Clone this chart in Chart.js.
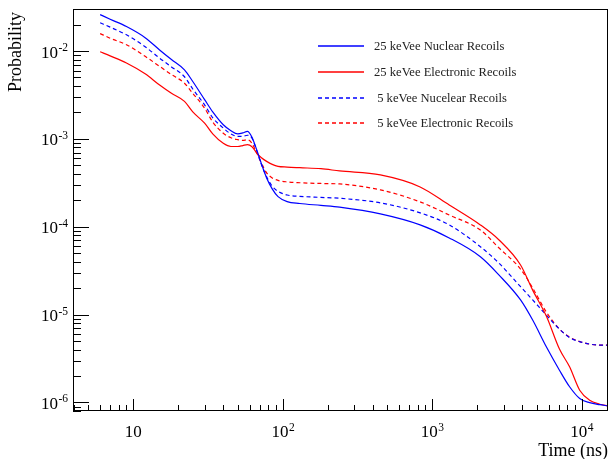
<!DOCTYPE html>
<html><head><meta charset="utf-8">
<script src="https://cdn.jsdelivr.net/npm/chart.js@4/dist/chart.umd.min.js"></script>
<style>html,body{margin:0;padding:0;background:#fff}canvas{display:block}</style>
</head><body>
<canvas id="c" width="610" height="459"></canvas>
<script>
// ---- data ----
const times = [6, 7, 9, 12, 15, 18, 22, 25, 30, 34, 40, 45, 50, 54, 58, 62, 67, 72, 78, 85,
  93, 107, 130, 180, 240, 450, 830, 1300, 2100, 2800, 3900, 4700, 5800, 7100, 8300, 9700, 11300, 13200, 15000];

const nuclear25 = [0.026, 0.023, 0.019, 0.0142, 0.0103, 0.0080, 0.0061, 0.0045, 0.0028, 0.00203,
  0.00145, 0.00124, 0.00114, 0.00117, 0.00122, 0.00106, 0.00075, 0.00052, 0.00036, 0.00027,
  0.00022, 0.000193, 0.000184, 0.000175, 0.000167, 0.00014, 0.000105, 7.46e-5, 4.56e-5, 2.82e-5,
  1.47e-5, 8.67e-6, 4.30e-6, 2.33e-6, 1.51e-6, 1.11e-6, 9.95e-7, 9.44e-7, 9.15e-7];

const electronic25 = [0.0098, 0.0088, 0.0073, 0.0055, 0.0041, 0.0033, 0.00267, 0.00203, 0.00151, 0.00114,
  0.00089, 0.00082, 0.00082, 0.00084, 0.00086, 0.00082, 0.00069, 0.00061, 0.000555, 0.000513,
  0.000487, 0.000478, 0.00047, 0.000458, 0.000432, 0.000389, 0.000284, 0.000177, 0.000105, 7.07e-5,
  3.67e-5, 1.9e-5, 9.63e-6, 4.05e-6, 2.55e-6, 1.38e-6, 1.06e-6, 9.56e-7, 9.15e-7];

const nuclear5 = [0.021, 0.0187, 0.0153, 0.0112, 0.0083, 0.0066, 0.0051, 0.0037, 0.00244, 0.00174,
  0.00133, 0.00114, 0.00107, 0.00107, 0.0011, 0.00103, 0.00073, 0.00051, 0.00037, 0.00029,
  0.000253, 0.00023, 0.000222, 0.000216, 0.000211, 0.000187, 0.000144, 0.000105, 5.93e-5, 3.84e-5,
  2.08e-5, 1.47e-5, 9.88e-6, 6.84e-6, 5.48e-6, 4.93e-6, 4.62e-6, 4.5e-6, 4.5e-6];

const electronic5 = [0.0158, 0.014, 0.0118, 0.0087, 0.0067, 0.0054, 0.0043, 0.0033, 0.00224, 0.00156,
  0.00116, 0.00103, 0.00098, 0.00096, 0.00098, 0.0009, 0.00069, 0.00053, 0.00041, 0.00036,
  0.000337, 0.000324, 0.000317, 0.000311, 0.000307, 0.000263, 0.000192, 0.000136, 9.19e-5, 5.73e-5,
  3.3e-5, 2.01e-5, 1.07e-5, 6.84e-6, 5.55e-6, 4.93e-6, 4.62e-6, 4.5e-6, 4.5e-6];

const seriesLabels = ['25 keVee Nuclear Recoils', '25 keVee Electronic Recoils',
  ' 5 keVee Nucelear Recoils', ' 5 keVee Electronic Recoils'];
const xTickExponents = [1, 2, 3, 4];
const yTickExponents = [-2, -3, -4, -5, -6];
const xTitle = 'Time (ns)';
const yTitle = 'Probability';

// ---- styles ----
const SERIF = '"Liberation Serif", "Times New Roman", serif';
const BLUE = '#0000ff', RED = '#ff0000';
const seriesColors = [BLUE, RED, BLUE, RED];
const seriesDash = [[], [], [4, 3], [4, 3]];
function pts(arr) { return times.map((t, i) => ({ x: t, y: arr[i] })); }

const rootAxes = {
  id: 'rootAxes',
  afterDatasetsDraw(chart) {
    const ctx = chart.ctx, a = chart.chartArea;
    const xs = chart.scales.x, ys = chart.scales.y;
    ctx.save();
    ctx.strokeStyle = '#000';
    ctx.lineWidth = 1;
    ctx.setLineDash([]);
    // ticks (inward)
    ctx.beginPath();
    for (let d = 0; d <= 4; d++) {
      for (let m = 1; m <= 9; m++) {
        const v = m * Math.pow(10, d);
        if (v < xs.min || v > xs.max) continue;
        const px = Math.round(xs.getPixelForValue(v)) + 0.5;
        const len = m === 1 ? 12 : 6;
        ctx.moveTo(px, a.bottom); ctx.lineTo(px, a.bottom - len);
      }
    }
    for (let e = -7; e <= -1; e++) {
      for (let m = 1; m <= 9; m++) {
        const v = m * Math.pow(10, e);
        if (v < ys.min || v > ys.max) continue;
        const py = Math.round(ys.getPixelForValue(v)) + 0.5;
        const len = m === 1 ? 16 : 8;
        ctx.moveTo(a.left, py); ctx.lineTo(a.left + len, py);
      }
    }
    ctx.stroke();
    // frame
    ctx.strokeRect(a.left + 0.5, a.top + 0.5, a.right - a.left - 1, a.bottom - a.top - 1);

    // tick labels
    ctx.fillStyle = '#000';
    ctx.textBaseline = 'alphabetic';
    const baseFont = '17px ' + SERIF, supFont = '11.5px ' + SERIF;
    xTickExponents.forEach(ex => {
      const px = xs.getPixelForValue(Math.pow(10, ex));
      const sup = ex === 1 ? '' : String(ex);
      ctx.font = baseFont; const bw = ctx.measureText('10').width;
      ctx.font = supFont; const sw = sup ? ctx.measureText(sup).width : 0;
      const x0 = px - (bw + sw) / 2;
      ctx.font = baseFont; ctx.textAlign = 'left';
      ctx.fillText('10', x0, 437);
      if (sup) { ctx.font = supFont; ctx.fillText(sup, x0 + bw + 0.5, 431); }
    });
    yTickExponents.forEach(ex => {
      const py = ys.getPixelForValue(Math.pow(10, ex));
      const sup = String(ex);
      ctx.font = supFont; const sw = ctx.measureText(sup).width;
      ctx.font = baseFont; const bw = ctx.measureText('10').width;
      const right = a.left - 5;
      ctx.textAlign = 'left';
      ctx.fillText('10', right - sw - bw - 0.5, py + 6.5);
      ctx.font = supFont; ctx.fillText(sup, right - sw, py);
    });

    // axis titles
    ctx.font = '18px ' + SERIF;
    ctx.textAlign = 'right';
    ctx.fillText(xTitle, a.right, 456);
    ctx.save();
    ctx.translate(21, a.top + 3);
    ctx.rotate(-Math.PI / 2);
    ctx.textAlign = 'right';
    ctx.fillText(yTitle, 0, 0);
    ctx.restore();

    // legend
    const ly = [46, 72, 98, 123];
    seriesLabels.forEach((lab, i) => {
      ctx.strokeStyle = seriesColors[i];
      ctx.lineWidth = 1.3;
      ctx.setLineDash(seriesDash[i]);
      ctx.lineDashOffset = 0;
      ctx.beginPath();
      ctx.moveTo(318, ly[i]); ctx.lineTo(364, ly[i]);
      ctx.stroke();
      ctx.setLineDash([]);
      ctx.fillStyle = '#222';
      ctx.font = '12.6px ' + SERIF;
      ctx.textAlign = 'left';
      ctx.textBaseline = 'middle';
      ctx.fillText(lab, 374, ly[i] + 1);
    });
    ctx.restore();
  }
};

const seriesData = [nuclear25, electronic25, nuclear5, electronic5];

new Chart(document.getElementById('c'), {
  type: 'line',
  data: {
    datasets: seriesData.map((arr, i) => ({
      label: seriesLabels[i],
      data: pts(arr),
      borderColor: seriesColors[i],
      borderWidth: 1.2,
      borderDash: seriesDash[i]
    }))
  },
  options: {
    responsive: false,
    animation: false,
    devicePixelRatio: 1,
    layout: { padding: { left: 73, top: 9, right: 2, bottom: 48 } },
    elements: { point: { radius: 0 }, line: { fill: false, cubicInterpolationMode: 'monotone' } },
    plugins: { legend: { display: false }, tooltip: { enabled: false } },
    scales: {
      x: { type: 'logarithmic', min: 3.95, max: 15000, display: false },
      y: { type: 'logarithmic', min: 8e-7, max: 0.0301, display: false }
    }
  },
  plugins: [rootAxes]
});
</script>
</body></html>
